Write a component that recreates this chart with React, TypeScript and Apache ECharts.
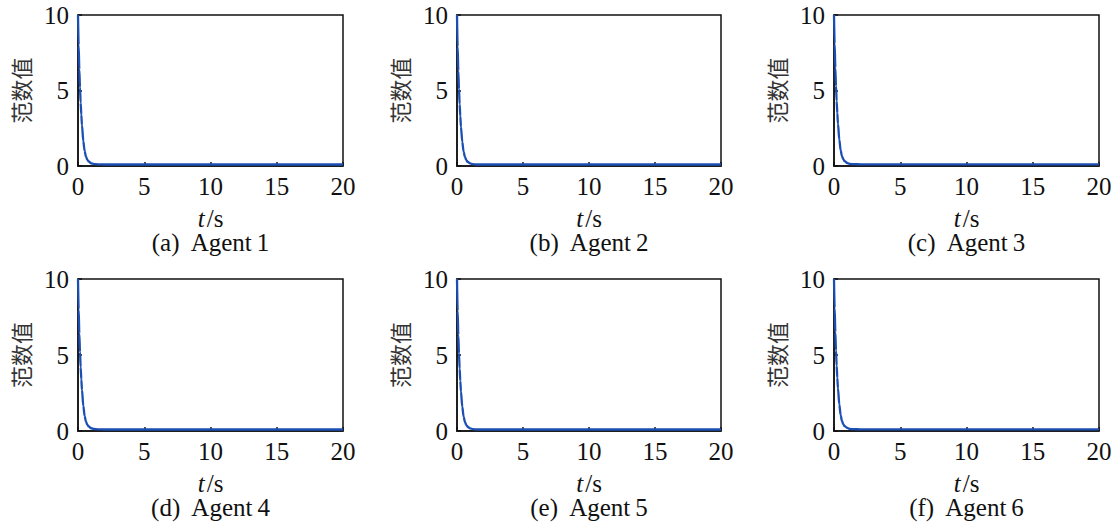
import React, { useEffect, useRef } from "react";
import * as echarts from "echarts";

const timeS = [0, 0.05, 0.1, 0.15, 0.2, 0.25, 0.3, 0.4, 0.5, 0.6, 0.7, 0.8, 1.0, 1.2, 1.5, 2, 3, 5, 10, 15, 20];

const agent1 = [10, 8.0, 6.4, 5.2, 4.2, 3.4, 2.7, 1.65, 1.0, 0.62, 0.42, 0.3, 0.18, 0.13, 0.11, 0.1, 0.1, 0.1, 0.1, 0.1, 0.1];
const agent2 = [10, 7.9, 6.3, 5.1, 4.1, 3.3, 2.6, 1.6, 0.95, 0.6, 0.4, 0.28, 0.17, 0.12, 0.1, 0.1, 0.1, 0.1, 0.1, 0.1, 0.1];
const agent3 = [10, 8.1, 6.5, 5.3, 4.3, 3.5, 2.8, 1.75, 1.05, 0.66, 0.45, 0.32, 0.2, 0.14, 0.12, 0.11, 0.11, 0.11, 0.11, 0.11, 0.11];
const agent4 = [10, 8.0, 6.4, 5.2, 4.2, 3.4, 2.7, 1.65, 1.0, 0.62, 0.42, 0.3, 0.18, 0.13, 0.11, 0.1, 0.1, 0.1, 0.1, 0.1, 0.1];
const agent5 = [10, 7.9, 6.3, 5.1, 4.1, 3.3, 2.6, 1.6, 0.95, 0.6, 0.4, 0.28, 0.17, 0.12, 0.1, 0.1, 0.1, 0.1, 0.1, 0.1, 0.1];
const agent6 = [10, 8.1, 6.5, 5.3, 4.3, 3.5, 2.8, 1.75, 1.05, 0.66, 0.45, 0.32, 0.2, 0.14, 0.12, 0.11, 0.11, 0.11, 0.11, 0.11, 0.11];

const agentSeries = [agent1, agent2, agent3, agent4, agent5, agent6];
const panelTitles = ["(a)  Agent\u20091", "(b)  Agent\u20092", "(c)  Agent\u20093", "(d)  Agent\u20094", "(e)  Agent\u20095", "(f)  Agent\u20096"];
const yAxisName = "范数值";
const xMin = 0, xMax = 20, xInterval = 5;
const yMin = 0, yMax = 10, yInterval = 5;

const gridBoxes = [
  { left: 78, top: 15, width: 265, height: 151 },
  { left: 457, top: 15, width: 264, height: 151 },
  { left: 834, top: 15, width: 265, height: 151 },
  { left: 78, top: 279, width: 265, height: 152 },
  { left: 457, top: 279, width: 264, height: 152 },
  { left: 834, top: 279, width: 265, height: 152 },
];

const SERIF = "'Liberation Serif', 'Times New Roman', serif";
const CJK = "'Noto Sans CJK SC', sans-serif";
const LINE_COLOR = "#1c4fb4";
const FS = 25;

export default function App() {
  const ref = useRef<HTMLDivElement>(null);
  useEffect(() => {
    if (!ref.current) return;
    const chart = echarts.init(ref.current, undefined, { renderer: "svg" });
    const grids = gridBoxes.map((g) => ({
      ...g,
      show: true,
      borderColor: "#111",
      borderWidth: 1.5,
      backgroundColor: "transparent",
      containLabel: false,
    }));
    const xAxes = gridBoxes.map((_, i) => ({
      type: "value",
      gridIndex: i,
      min: xMin,
      max: xMax,
      interval: xInterval,
      axisLine: { show: true, lineStyle: { color: "#111", width: 1.5 } },
      axisTick: { show: true, inside: true, length: 4, lineStyle: { color: "#111", width: 1.5 } },
      splitLine: { show: false },
      axisLabel: { color: "#111", fontFamily: SERIF, fontSize: FS, margin: 8 },
      name: "{i|t}{n|\u200a/s}",
      nameLocation: "middle",
      nameGap: 52,
      nameTextStyle: {
        color: "#111",
        fontFamily: SERIF,
        fontSize: FS,
        verticalAlign: "middle",
        rich: {
          i: { fontStyle: "italic", fontFamily: SERIF, fontSize: FS, color: "#111" },
          n: { fontFamily: SERIF, fontSize: FS, color: "#111" },
        },
      },
    }));
    const yAxes = gridBoxes.map((_, i) => ({
      type: "value",
      gridIndex: i,
      min: yMin,
      max: yMax,
      interval: yInterval,
      axisLine: { show: true, lineStyle: { color: "#111", width: 1.5 } },
      axisTick: { show: true, inside: true, length: 4, lineStyle: { color: "#111", width: 1.5 } },
      splitLine: { show: false },
      axisLabel: { color: "#111", fontFamily: SERIF, fontSize: FS, margin: 9 },
      name: yAxisName,
      nameLocation: "middle",
      nameRotate: 90,
      nameGap: 47,
      nameTextStyle: { color: "#333", fontFamily: CJK, fontSize: 22 },
    }));
    const series = agentSeries.map((vals, i) => ({
      type: "line",
      xAxisIndex: i,
      yAxisIndex: i,
      data: timeS.map((t, k) => [t, vals[k]]),
      showSymbol: false,
      smooth: 0.3,
      smoothMonotone: "x",
      lineStyle: { color: LINE_COLOR, width: 2.3 },
      itemStyle: { color: LINE_COLOR },
    }));
    const titles = gridBoxes.map((g, i) => ({
      text: panelTitles[i],
      left: g.left + g.width / 2 - 5,
      top: g.top + g.height + 59,
      textAlign: "center",
      textStyle: { color: "#111", fontFamily: SERIF, fontSize: FS, fontWeight: "normal" },
    }));
    chart.setOption({
      animation: false,
      backgroundColor: "#fff",
      title: titles,
      grid: grids,
      xAxis: xAxes,
      yAxis: yAxes,
      series,
    });
    return () => chart.dispose();
  }, []);
  return (
    <div
      ref={ref}
      style={{ position: "fixed", left: 0, top: 0, width: 1116, height: 528, background: "#fff" }}
    />
  );
}
